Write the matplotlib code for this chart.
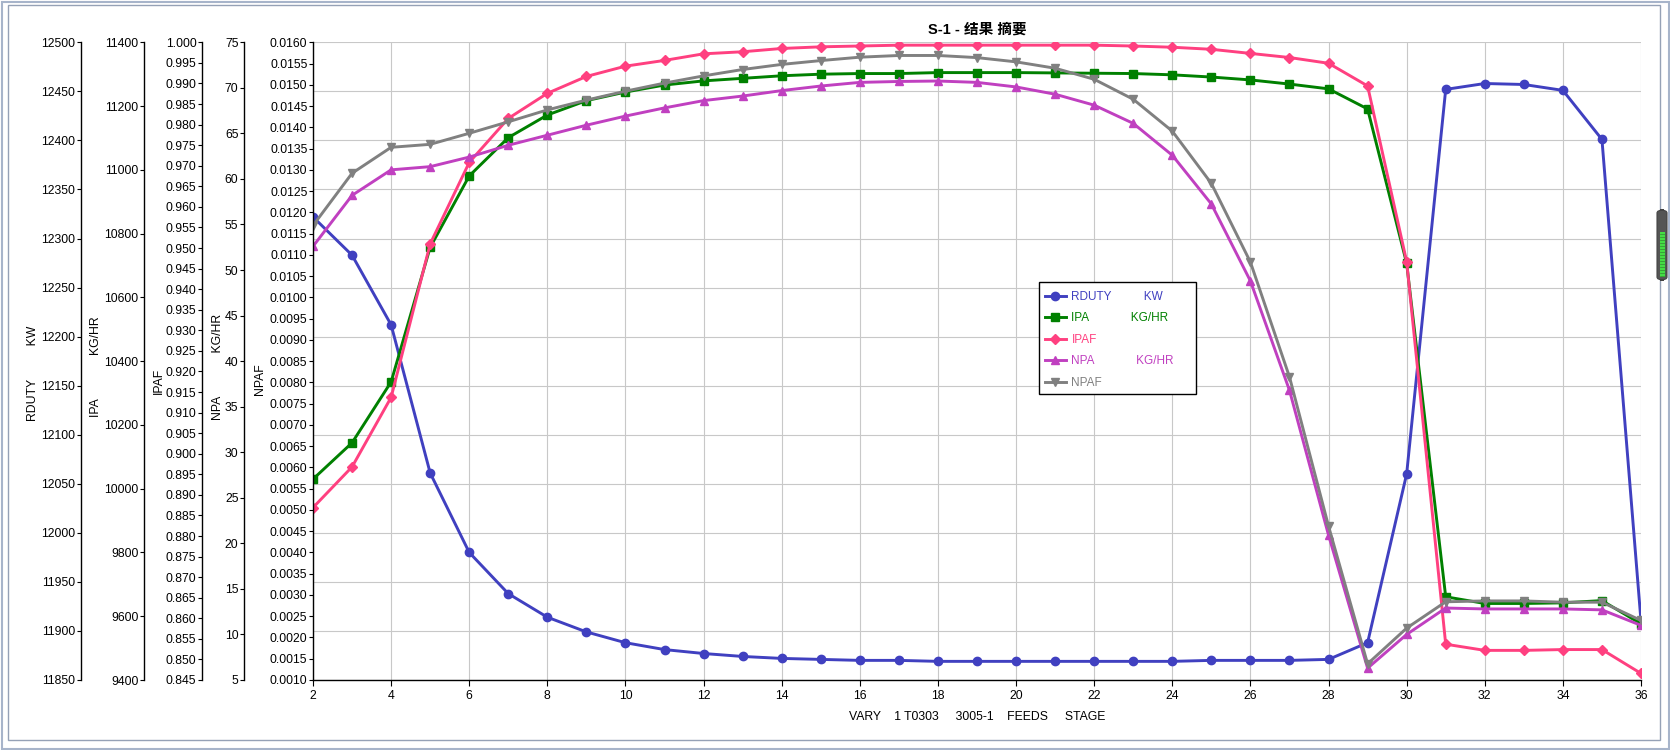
import matplotlib
matplotlib.use('Agg')
import matplotlib.pyplot as plt
from matplotlib.patches import Rectangle, FancyBboxPatch
from matplotlib.ticker import MultipleLocator, FormatStrFormatter

plt.rcParams['font.family'] = ['Liberation Sans', 'Noto Sans CJK SC', 'DejaVu Sans']
plt.rcParams['font.size'] = 8.8

# Datos
stages = list(range(2, 37))

rduty = [12322, 12283, 12212, 12061, 11980, 11938, 11914, 11899, 11888, 11881,
         11877, 11874, 11872, 11871, 11870, 11870, 11869, 11869, 11869, 11869,
         11869, 11869, 11869, 11870, 11870, 11870, 11871, 11888, 12060, 12452,
         12458, 12457, 12451, 12401, 11910]

ipa = [10030, 10144, 10335, 10757, 10981, 11101, 11172, 11217, 11244, 11266,
       11279, 11287, 11295, 11300, 11302, 11302, 11305, 11305, 11305, 11304,
       11303, 11302, 11298, 11291, 11282, 11269, 11254, 11191, 10707, 9661,
       9640, 9640, 9642, 9649, 9576]

ipaf = [0.8869, 0.8968, 0.9137, 0.9510, 0.9708, 0.9815, 0.9876, 0.9917, 0.9942, 0.9956,
        0.9972, 0.9977, 0.9985, 0.9989, 0.9991, 0.9993, 0.9993, 0.9993, 0.9993, 0.9993,
        0.9993, 0.9991, 0.9988, 0.9983, 0.9973, 0.9963, 0.9949, 0.9894, 0.9467, 0.8537,
        0.8522, 0.8522, 0.8524, 0.8524, 0.8466]

npa = [52.6, 58.2, 61.0, 61.35, 62.4, 63.7, 64.8, 65.9, 66.9, 67.8,
       68.6, 69.1, 69.7, 70.2, 70.6, 70.7, 70.75, 70.6, 70.1, 69.3,
       68.1, 66.1, 62.6, 57.25, 48.8, 36.8, 20.9, 6.3, 10.0, 12.9,
       12.8, 12.8, 12.8, 12.7, 11.0]

npaf = [0.01169, 0.01292, 0.01353, 0.01360, 0.01386, 0.01413, 0.01441, 0.01464, 0.01485, 0.01504,
        0.01521, 0.01536, 0.01548, 0.01557, 0.01565, 0.01569, 0.01569, 0.01564, 0.01554, 0.01539,
        0.01513, 0.01466, 0.01391, 0.01268, 0.01083, 0.00813, 0.00462, 0.00138, 0.00222, 0.00284,
        0.00286, 0.00286, 0.00283, 0.00283, 0.00240]

names = ['RDUTY', 'IPA', 'IPAF', 'NPA', 'NPAF']
series = [rduty, ipa, ipaf, npa, npaf]
colors = ['#4040c0', '#008000', '#ff4080', '#c040c0', '#808080']
markers = ['o', 's', 'D', '^', 'v']
limits = [(11850, 12500), (9400, 11400), (0.845, 1.000), (5, 75), (0.0010, 0.0160)]
steps = [50, 200, 0.005, 5, 0.0005]
formats = ['%d', '%d', '%.3f', '%d', '%.4f']

W, H = 1670, 750
fig = plt.figure(figsize=(W / 100, H / 100), dpi=100)


def fx(px):
    return px / W


def fy(py):
    return 1 - py / H


left, right, top, bottom = 313, 1641, 42.3, 680
ax = fig.add_axes([fx(left), fy(bottom), fx(right) - fx(left), fy(top) - fy(bottom)])

# posicion de cada eje (pixeles) y de su titulo
spine_px = [81, 144, 202, 244, 313]
label_pos = [(33, 373), (96, 366.5), (159, 381), (218, 366.5), (260, 379)]
label_txt = ['RDUTY          KW', 'IPA             KG/HR', 'IPAF', 'NPA             KG/HR', 'NPAF']

axes = [ax]
for i in range(1, 5):
    axes.append(ax.twinx())

lines = []
for i, a in enumerate(axes):
    ln, = a.plot(stages, series[i], color=colors[i], marker=markers[i], lw=2.1,
                 ms=6 if markers[i] != 'D' else 5.5, mec=colors[i], mfc=colors[i])
    lines.append(ln)
    a.set_ylim(*limits[i])
    a.yaxis.set_major_locator(MultipleLocator(steps[i]))
    a.yaxis.set_major_formatter(FormatStrFormatter(formats[i]))
    a.yaxis.tick_left()
    for s in ['top', 'right', 'bottom']:
        a.spines[s].set_visible(False)
    a.spines['left'].set_visible(True)
    a.spines['left'].set_position(('axes', (spine_px[i] - left) / (right - left)))
    a.spines['left'].set_linewidth(1.0)
    a.tick_params(axis='y', direction='out', length=3, width=0.8, pad=1,
                  labelsize=8.8, colors='black')
    fig.text(fx(label_pos[i][0]), fy(label_pos[i][1]), label_txt[i], rotation=90,
             ha='center', va='center', fontsize=8.8)

ax.spines['bottom'].set_visible(True)
ax.spines['bottom'].set_linewidth(1.0)
ax.set_xlim(2, 36)
ax.set_xticks(range(2, 37, 2))
ax.tick_params(axis='x', direction='out', length=4, width=0.8, pad=3, labelsize=8.8)
ax.grid(True, color='#c8c8c8', lw=0.8)
ax.set_axisbelow(True)

ax.set_xlabel('VARY    1 T0303     3005-1    FEEDS     STAGE', fontsize=8.8, labelpad=7)
ax.set_title('S-1 - 结果 摘要', fontsize=10.5, fontweight='bold', pad=6)

# caja de la leyenda
fig.patches.append(Rectangle((fx(1039), fy(394)), fx(1196) - fx(1039), fy(282) - fy(394),
                             transform=fig.transFigure, facecolor='white',
                             edgecolor='black', lw=1.0, zorder=4))

leg_labels = ['RDUTY          KW', 'IPA             KG/HR', 'IPAF',
              'NPA             KG/HR', 'NPAF']
leg = fig.legend(lines, leg_labels, loc='upper left', bbox_to_anchor=(fx(1039), fy(285)),
                 frameon=False, borderpad=0.5, labelspacing=0.8, handlelength=1.75,
                 handletextpad=0.5, borderaxespad=0, fontsize=8.5)
for t, c in zip(leg.get_texts(), colors):
    t.set_color(c)


def frame(x0, y0, x1, y1, **kw):
    fig.patches.append(Rectangle((fx(x0), fy(y1)), fx(x1) - fx(x0), fy(y0) - fy(y1),
                                 transform=fig.transFigure, fill=False, **kw))


# marco de la ventana
frame(1.5, 1.5, 1668.5, 748.5, edgecolor='#a7b4ca', lw=1.5)
frame(8, 4.5, 1660, 740, edgecolor='#95a1b6', lw=1.0)

# barra de desplazamiento
fig.patches.append(FancyBboxPatch((fx(1657), fy(280)), fx(10), fy(210) - fy(280),
                                  boxstyle='round,pad=0,rounding_size=0.004',
                                  transform=fig.transFigure, facecolor='#555555',
                                  edgecolor='#444444', lw=0.8))
fig.patches.append(Rectangle((fx(1659.5), fy(277)), fx(5.5), fy(232) - fy(277),
                             transform=fig.transFigure, facecolor='#44dd44', lw=0))
for yy in range(234, 277, 3):
    fig.lines.append(plt.Line2D([fx(1659.5), fx(1665)], [fy(yy), fy(yy)],
                                transform=fig.transFigure, color='#338833', lw=0.5))

fig.savefig('out.png', dpi=100)
